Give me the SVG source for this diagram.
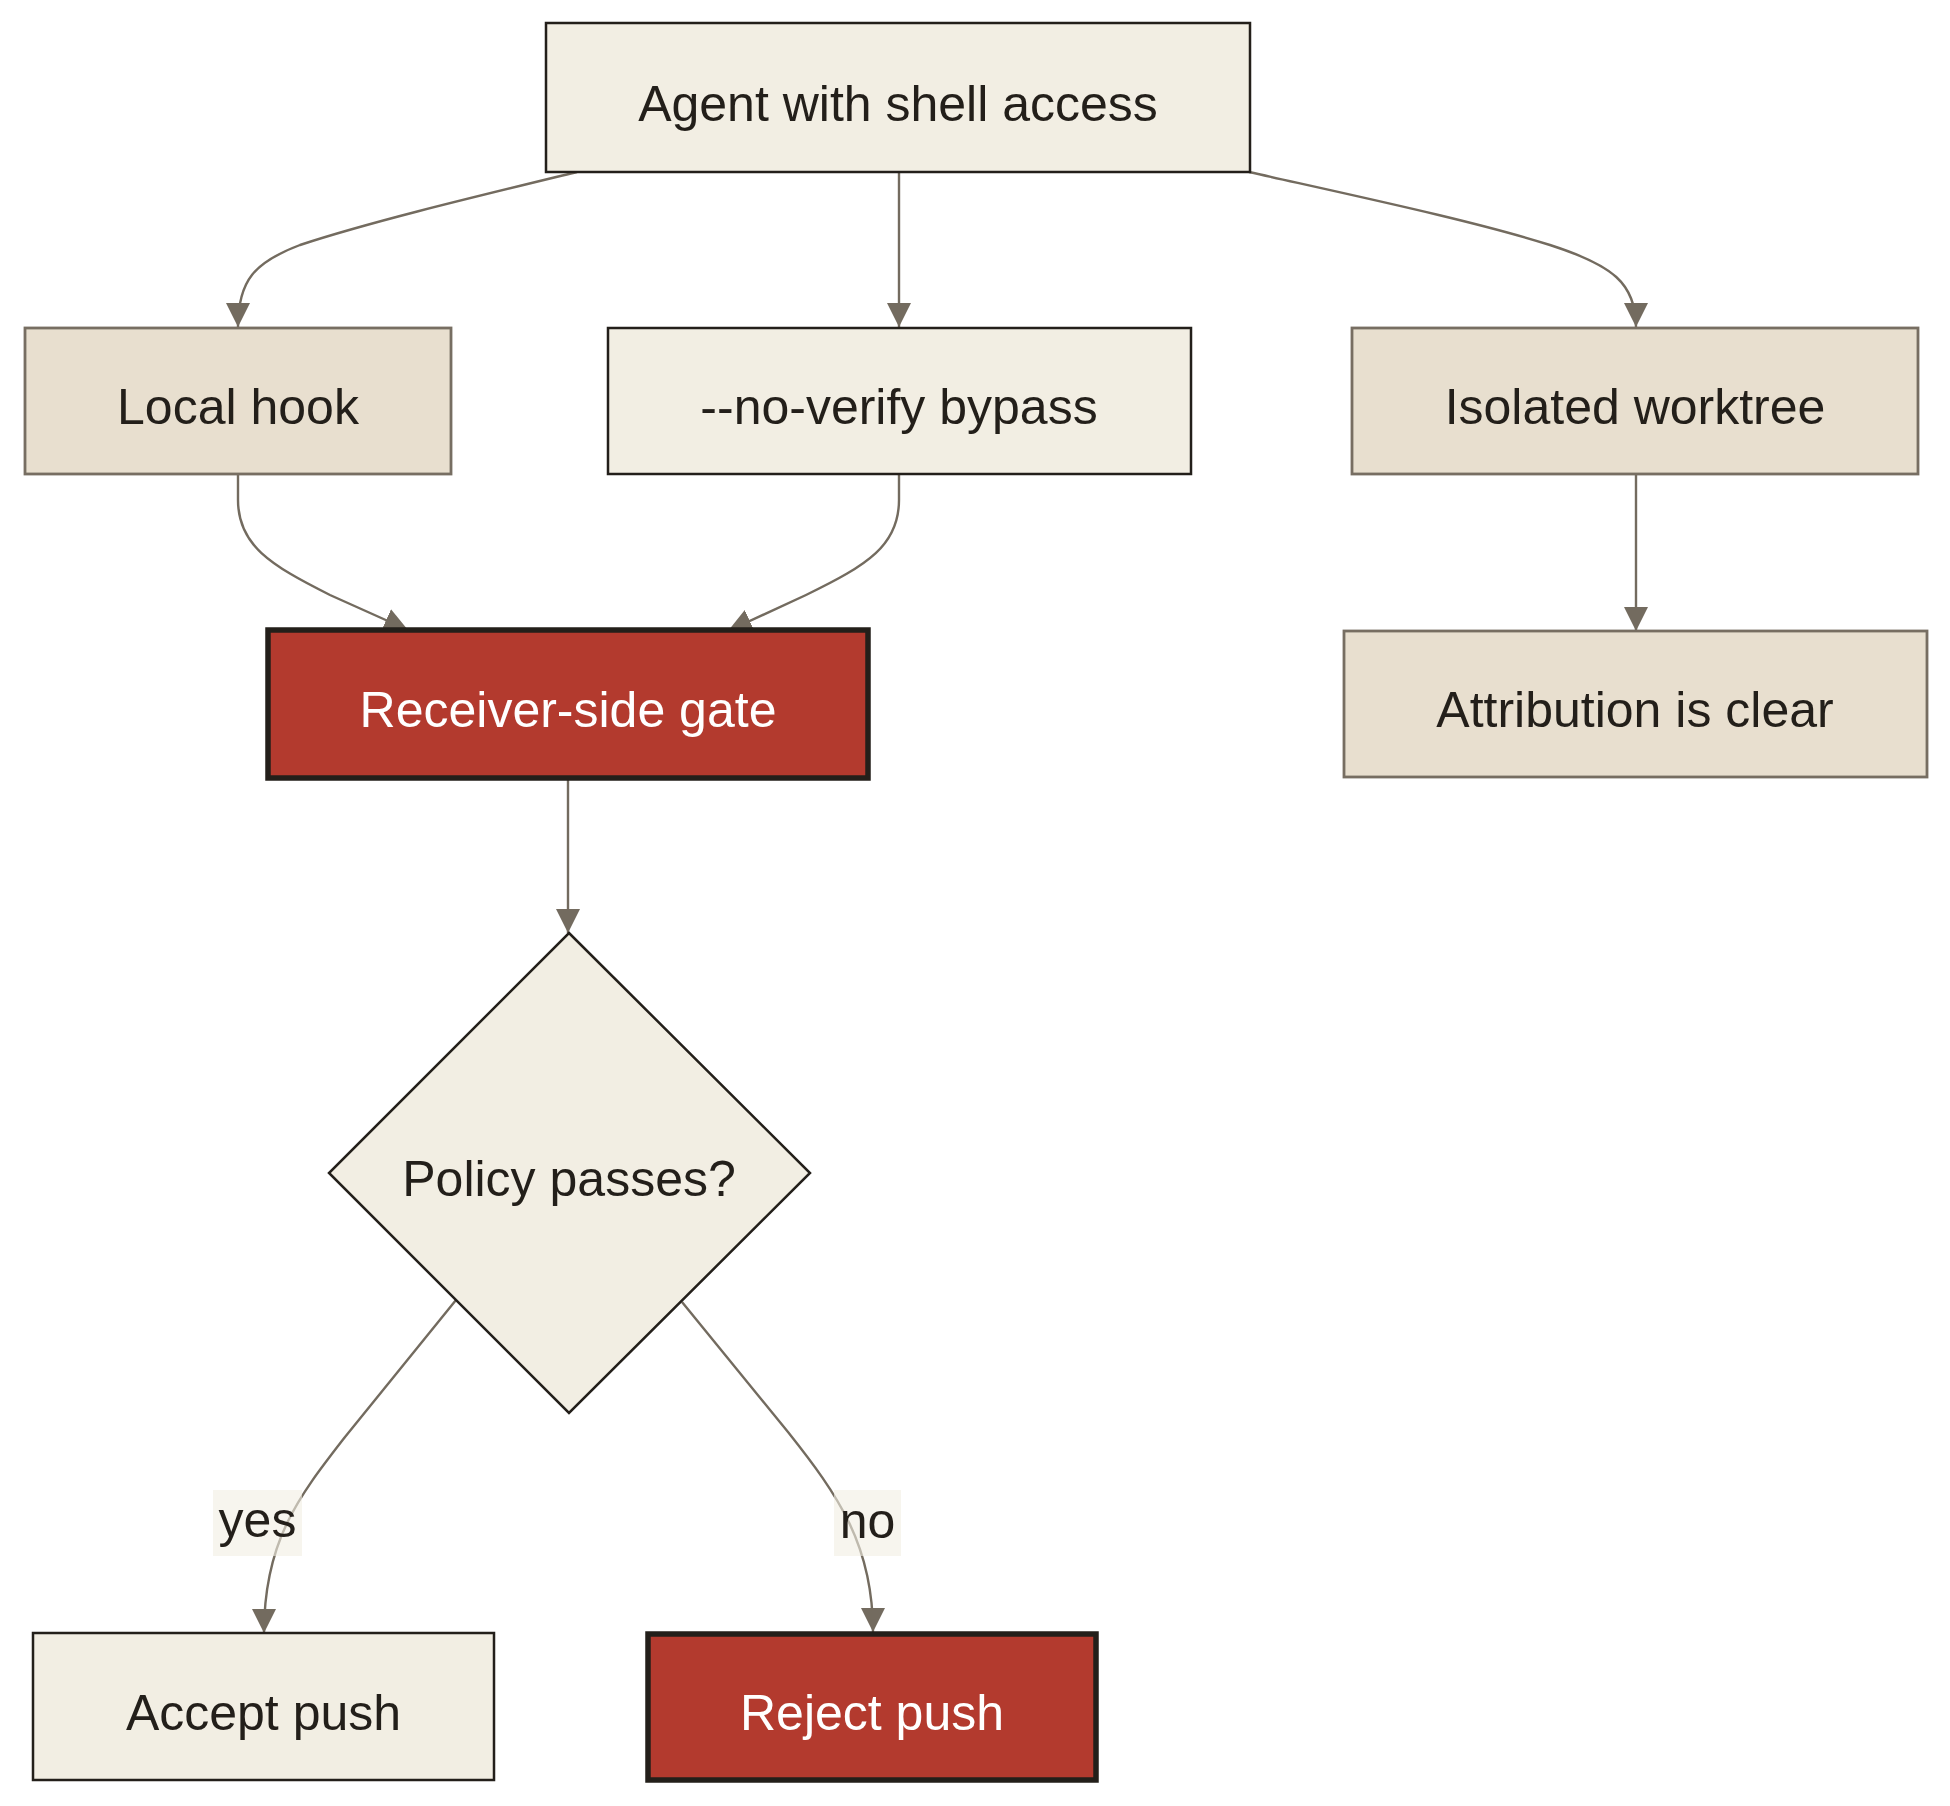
<svg xmlns="http://www.w3.org/2000/svg" width="1950" height="1806" viewBox="0 0 1950 1806">
  <style>
    .lbl { font-family: "Liberation Sans", Arial, Helvetica, sans-serif; font-size: 50px; text-anchor: middle; fill: #231f1a; }
    .lbl.w { fill: #ffffff; }
    .cream { fill: #f2eee3; stroke: #231f1a; stroke-width: 2.5; }
    .tan { fill: #e8dfcf; stroke: #776e62; stroke-width: 2.8; }
    .red { fill: #b33a2e; stroke: #231f1a; stroke-width: 5.5; }
    .edge { fill: none; stroke: #736b5f; stroke-width: 2.4; marker-end: url(#arrow); }
    .ebg { fill: #f2eee3; opacity: 0.6; }
  </style>
  <defs>
    <marker id="arrow" markerUnits="userSpaceOnUse" markerWidth="24" markerHeight="24" refX="24" refY="12" orient="auto">
      <path d="M0,0 L24,12 L0,24 z" fill="#736b5f"/>
    </marker>
  </defs>
  <rect width="1950" height="1806" fill="#ffffff"/>

  <g id="connectors">
    <path class="edge" d="M577,172 C470,198 370,222 300,245 C255,262 238,280 238,327"/>
    <path class="edge" d="M899,172 L899,327"/>
    <path class="edge" d="M1249,172 C1365,198 1478,222 1550,245 C1612,265 1636,283 1636,327"/>
    <path class="edge" d="M238,474 L238,500 C238,545 270,565 330,595 L408,630"/>
    <path class="edge" d="M899,474 L899,500 C899,545 868,565 806,595 L728,631"/>
    <path class="edge" d="M1636,474 L1636,631"/>
    <path class="edge" d="M568,780 L568,933"/>
    <path class="edge" d="M456,1300 L345,1437 C300,1495 264,1540 264,1633"/>
    <path class="edge" d="M682,1302 L788,1432 C838,1495 873,1545 873,1632"/>
    <g id="label-yes">
      <rect class="ebg" x="213" y="1490" width="89" height="66"/>
      <text class="lbl" x="257.5" y="1537">yes</text>
    </g>
    <g id="label-no">
      <rect class="ebg" x="834" y="1490" width="67" height="66"/>
      <text class="lbl" x="867.5" y="1538">no</text>
    </g>
  </g>

  <g id="agent">
    <rect class="cream" x="546" y="23" width="704" height="149"/>
    <text class="lbl" x="898" y="121">Agent with shell access</text>
  </g>
  <g id="localhook">
    <rect class="tan" x="25" y="328" width="426" height="146"/>
    <text class="lbl" x="238" y="424">Local hook</text>
  </g>
  <g id="noverify">
    <rect class="cream" x="608" y="328" width="583" height="146"/>
    <text class="lbl" x="899" y="424">--no-verify bypass</text>
  </g>
  <g id="worktree">
    <rect class="tan" x="1352" y="328" width="566" height="146"/>
    <text class="lbl" x="1635" y="424">Isolated worktree</text>
  </g>
  <g id="gate">
    <rect class="red" x="268" y="630" width="600" height="148"/>
    <text class="lbl w" x="568" y="727">Receiver-side gate</text>
  </g>
  <g id="attribution">
    <rect class="tan" x="1344" y="631" width="583" height="146"/>
    <text class="lbl" x="1635" y="727">Attribution is clear</text>
  </g>
  <g id="policy">
    <polygon class="cream" points="569,933 810,1173 569,1413 329,1173"/>
    <text class="lbl" x="569" y="1196">Policy passes?</text>
  </g>
  <g id="accept">
    <rect class="cream" x="33" y="1633" width="461" height="147"/>
    <text class="lbl" x="263.5" y="1730">Accept push</text>
  </g>
  <g id="reject">
    <rect class="red" x="648" y="1634" width="448" height="146"/>
    <text class="lbl w" x="872" y="1730">Reject push</text>
  </g>
</svg>
